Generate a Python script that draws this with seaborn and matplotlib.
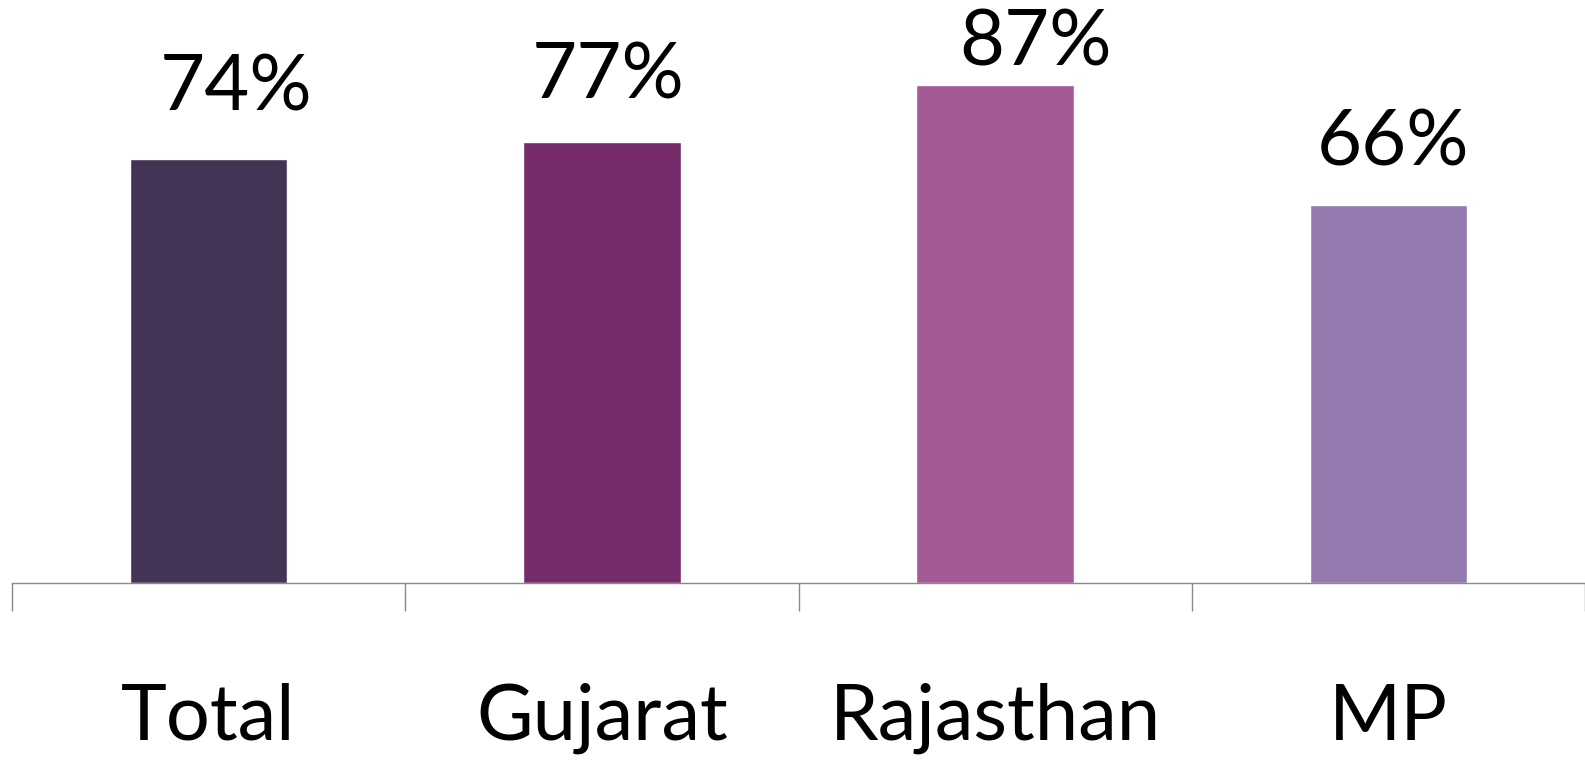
import seaborn as sns
import matplotlib
matplotlib.use("Agg")
import matplotlib.pyplot as plt
import pandas as pd
from matplotlib.ticker import FixedLocator

regions = ["Total", "Gujarat", "Rajasthan", "MP"]
shares = [74, 77, 87, 66]
value_labels = ["74%", "77%", "87%", "66%"]

colors = ["#433456", "#762C6A", "#A35A97", "#937AB1"]
# label nudges (points) from the top centre of each bar, as placed in the original
label_dx = [19.8, 4.3, 28.8, 3.6]
label_dy = [35.3, 31.0, 13.7, 28.8]

df = pd.DataFrame({"region": regions, "share": shares})

sns.set_style("white")
plt.rcParams["font.family"] = ["Lato", "DejaVu Sans"]

fig = plt.figure(figsize=(15.85, 7.62), dpi=100)
ax = fig.add_axes([12 / 1585, 179 / 762, 1 - 12 / 1585, 583 / 762])

sns.barplot(data=df, x="region", y="share", hue="region", palette=colors,
            width=0.4, legend=False, saturation=1, ax=ax)

for i, (v, txt) in enumerate(zip(shares, value_labels)):
    ax.annotate(txt, xy=(i, v), xytext=(label_dx[i], label_dy[i]),
                textcoords="offset points", ha="center", va="baseline",
                fontsize=56, color="black")

ax.set_xlim(-0.5, 3.5)
ax.set_ylim(0, 101.8)
ax.set_xlabel("")
ax.set_ylabel("")
ax.set_yticks([])

for side in ["top", "right", "left"]:
    ax.spines[side].set_visible(False)
ax.spines["bottom"].set_color("#898989")
ax.spines["bottom"].set_linewidth(1.0)

ax.xaxis.set_minor_locator(FixedLocator([-0.5, 0.5, 1.5, 2.5, 3.5]))
ax.tick_params(axis="x", which="minor", direction="out", length=20, width=1.0,
               color="#898989", bottom=True)
ax.tick_params(axis="x", which="major", length=0, pad=72, labelsize=56,
               labelcolor="black")

plt.savefig("out.png", dpi=100)
